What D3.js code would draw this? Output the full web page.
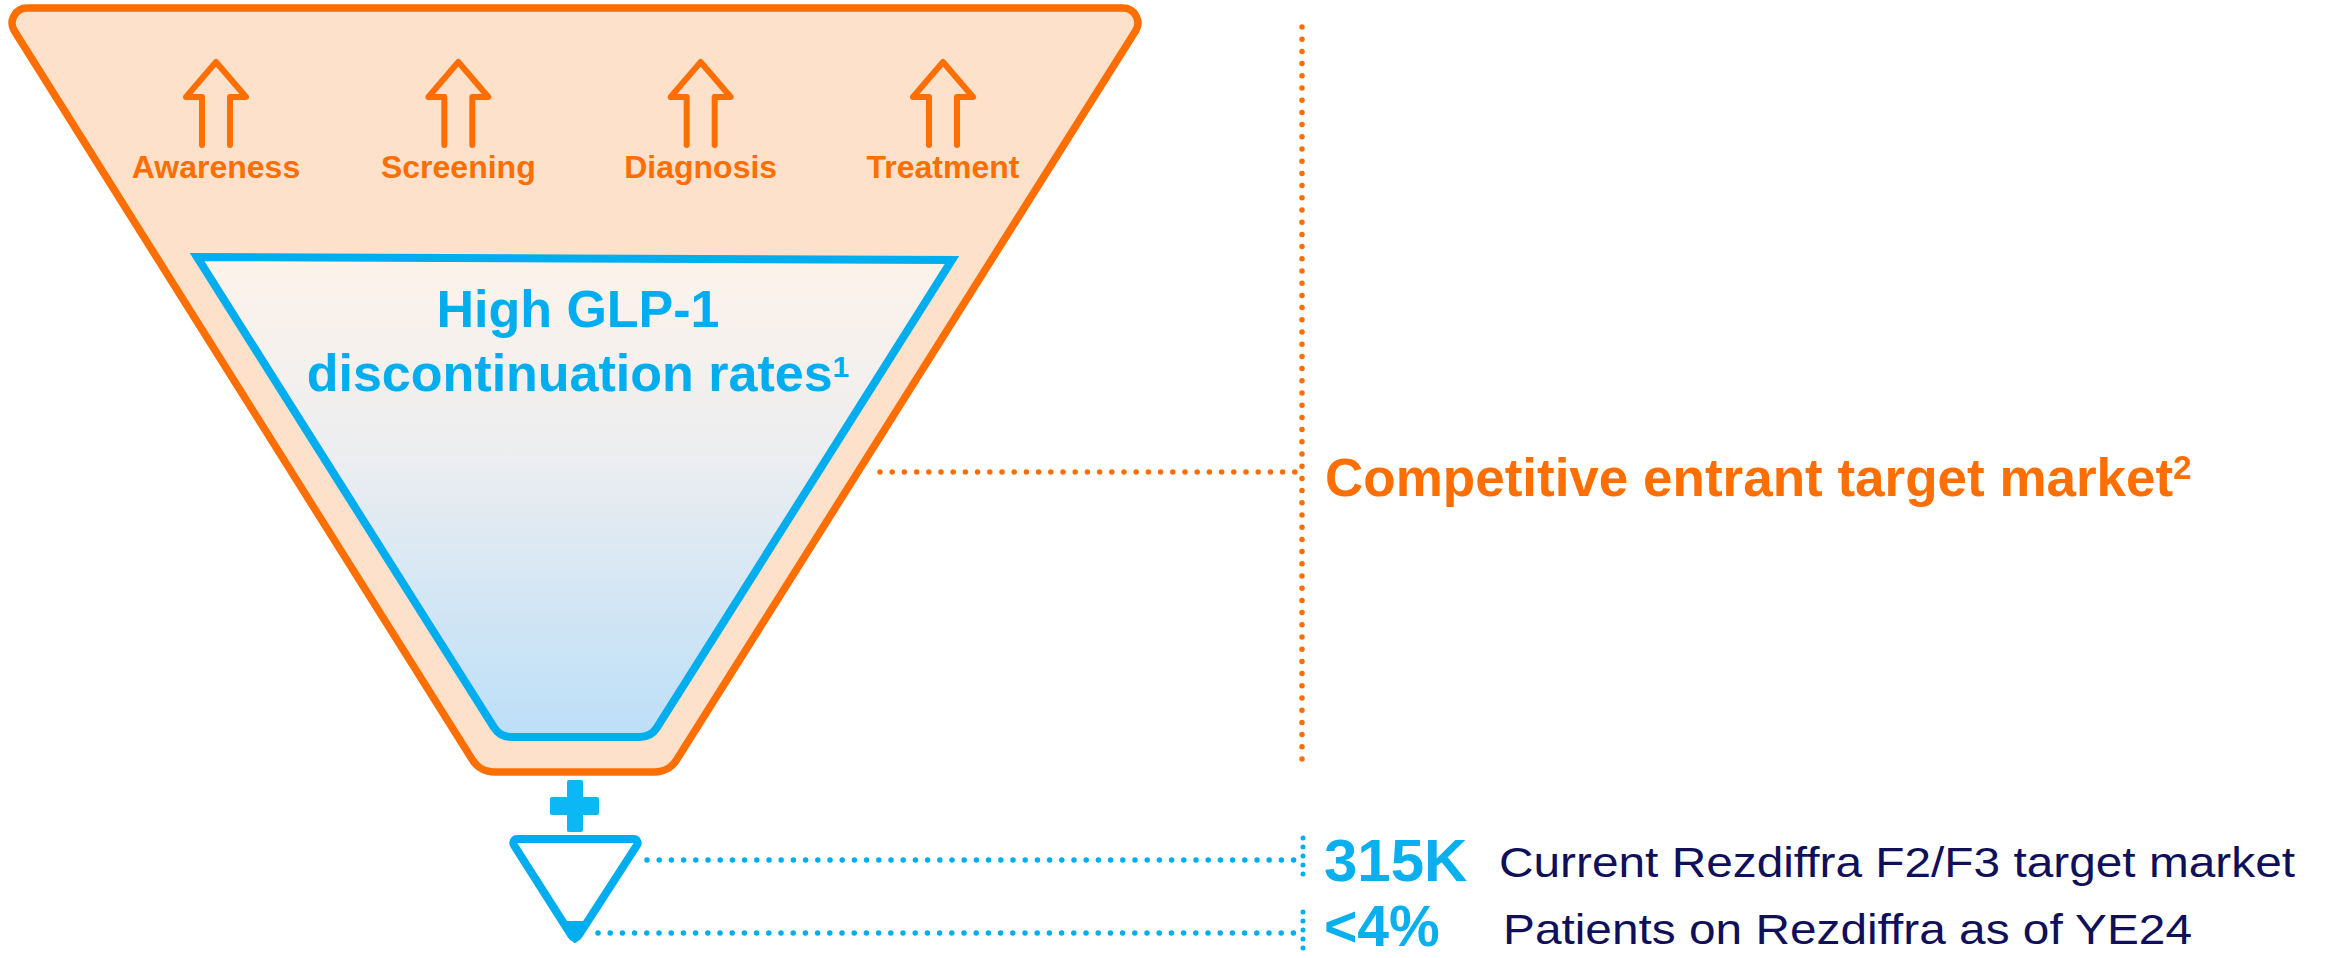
<!DOCTYPE html>
<html>
<head>
<meta charset="utf-8">
<script src="https://cdn.jsdelivr.net/npm/d3@7"></script>
<style>
  html, body { margin: 0; padding: 0; background: #ffffff; }
  svg { display: block; }
  text { font-family: "Liberation Sans", Arial, Helvetica, sans-serif; }
</style>
</head>
<body>
<svg id="chart" width="2328" height="958"></svg>
<script>
// ---------- data ----------
const stages = ["Awareness", "Screening", "Diagnosis", "Treatment"];
const innerLines = ["High GLP-1", "discontinuation rates"];
const innerNote = "1";
const outerLabel = "Competitive entrant target market";
const outerNote = "2";
const calloutValues = ["315K", "<4%"];
const calloutLabels = ["Current Rezdiffra F2/F3 target market", "Patients on Rezdiffra as of YE24"];

// ---------- styles ----------
const ORANGE = "#FF6E00";
const PEACH = "#FDE1CB";
const BLUE = "#00ADEE";
const NAVY = "#10105A";

const svg = d3.select("#chart");
const defs = svg.append("defs");
const grad = defs.append("linearGradient")
  .attr("id", "innerGrad").attr("x1", 0).attr("y1", 0).attr("x2", 0).attr("y2", 1);
grad.append("stop").attr("offset", "0%").attr("stop-color", "#FDF3EA");
grad.append("stop").attr("offset", "40%").attr("stop-color", "#EDEEF0");
grad.append("stop").attr("offset", "100%").attr("stop-color", "#BCDFF8");

function roundedPath(pts, radii) {
  const p = d3.path();
  const n = pts.length;
  p.moveTo((pts[n - 1][0] + pts[0][0]) / 2, (pts[n - 1][1] + pts[0][1]) / 2);
  for (let i = 0; i < n; i++) {
    const a = pts[i], b = pts[(i + 1) % n];
    if (radii[i] > 0) p.arcTo(a[0], a[1], b[0], b[1], radii[i]);
    else p.lineTo(a[0], a[1]);
  }
  p.closePath();
  return p.toString();
}

// ---------- outer funnel ----------
svg.append("path")
  .attr("d", roundedPath([[0, 8], [1150, 8], [669, 772], [480, 772]], [15, 15, 26, 26]))
  .attr("fill", PEACH).attr("stroke", ORANGE).attr("stroke-width", 7.5)
  .attr("stroke-linejoin", "round");

// ---------- stage arrows + labels ----------
const xStage = d3.scalePoint().domain(stages).range([216, 943]);
const arrowLine = d3.line();
stages.forEach(s => {
  const cx = xStage(s);
  const pts = [[cx - 14, 145], [cx - 14, 97], [cx - 30, 97], [cx, 62], [cx + 30, 97], [cx + 14, 97], [cx + 14, 145]];
  svg.append("path").attr("d", arrowLine(pts))
    .attr("fill", "none").attr("stroke", ORANGE).attr("stroke-width", 6)
    .attr("stroke-linejoin", "round").attr("stroke-linecap", "round");
  svg.append("text").attr("x", cx).attr("y", 178)
    .attr("text-anchor", "middle").attr("font-size", 32).attr("font-weight", "bold")
    .attr("fill", ORANGE).text(s);
});

// ---------- inner funnel ----------
svg.append("path")
  .attr("d", roundedPath([[197, 257], [952, 260], [651, 737], [500, 737]], [0, 0, 20, 20]))
  .attr("fill", "url(#innerGrad)").attr("stroke", BLUE).attr("stroke-width", 8)
  .attr("stroke-linejoin", "miter");

const innerText = svg.append("text").attr("text-anchor", "middle")
  .attr("font-size", 52).attr("font-weight", "bold").attr("fill", BLUE);
innerText.append("tspan").attr("x", 578).attr("y", 327).text(innerLines[0]);
const l2 = innerText.append("tspan").attr("x", 578).attr("y", 391);
l2.append("tspan").text(innerLines[1]);
l2.append("tspan").attr("font-size", 30).attr("dy", -14).text(innerNote);

// ---------- orange dotted guides ----------
const dot = (sel, color) => sel.attr("stroke", color).attr("stroke-width", 5.5)
  .attr("stroke-linecap", "round").attr("stroke-dasharray", "0 12.2").attr("fill", "none");
dot(svg.append("line").attr("x1", 1302).attr("y1", 27).attr("x2", 1302).attr("y2", 765), ORANGE);
dot(svg.append("line").attr("x1", 880).attr("y1", 472).attr("x2", 1300).attr("y2", 472), ORANGE);

const outerText = svg.append("text").attr("x", 1325).attr("y", 496)
  .attr("font-size", 53).attr("font-weight", "bold").attr("fill", ORANGE);
outerText.append("tspan").text(outerLabel);
outerText.append("tspan").attr("font-size", 33).attr("dy", -17).text(outerNote);

// ---------- plus sign ----------
svg.append("rect").attr("x", 567).attr("y", 780).attr("width", 16).attr("height", 52).attr("rx", 2).attr("fill", "#0BB7F5");
svg.append("rect").attr("x", 550).attr("y", 797).attr("width", 49).attr("height", 18).attr("rx", 2).attr("fill", "#0BB7F5");

// ---------- small funnel ----------
svg.append("path")
  .attr("d", roundedPath([[510, 839], [641, 839], [575, 941]], [4, 4, 4]))
  .attr("fill", "#ffffff").attr("stroke", BLUE).attr("stroke-width", 8).attr("stroke-linejoin", "round");
svg.append("path")
  .attr("d", d3.line()([[563.5, 923], [586.5, 923], [575, 941]]) + "Z")
  .attr("fill", BLUE).attr("stroke", BLUE).attr("stroke-width", 4).attr("stroke-linejoin", "round");

// ---------- callouts ----------
const yCall = d3.scalePoint().domain(calloutValues).range([860, 933]);
const lineStart = { "315K": 647, "<4%": 598 };
const vSpan = { "315K": [838, 882], "<4%": [912, 954] };
const valSize = { "315K": 60, "<4%": 57 };
const baseOff = { "315K": 21, "<4%": 12.5 };
const labelOff = { "315K": 17, "<4%": 11 };
const labelX = { "315K": 1499, "<4%": 1503 };
const labelW = { "315K": 796, "<4%": 689 };
calloutValues.forEach((v, i) => {
  const y = yCall(v);
  dot(svg.append("line").attr("x1", lineStart[v]).attr("y1", y).attr("x2", 1296).attr("y2", y), BLUE);
  dot(svg.append("line").attr("x1", 1303).attr("y1", vSpan[v][0]).attr("x2", 1303).attr("y2", vSpan[v][1]), BLUE)
    .attr("stroke-dasharray", "0 9").attr("stroke-width", 5);
  svg.append("text").attr("x", 1324).attr("y", y + baseOff[v])
    .attr("font-size", valSize[v]).attr("font-weight", "bold").attr("fill", "#0AB0EE").text(v);
  svg.append("text").attr("x", labelX[v]).attr("y", y + labelOff[v])
    .attr("font-size", 43).attr("fill", NAVY)
    .attr("textLength", labelW[v]).attr("lengthAdjust", "spacingAndGlyphs")
    .text(calloutLabels[i]);
});
</script>
</body>
</html>
